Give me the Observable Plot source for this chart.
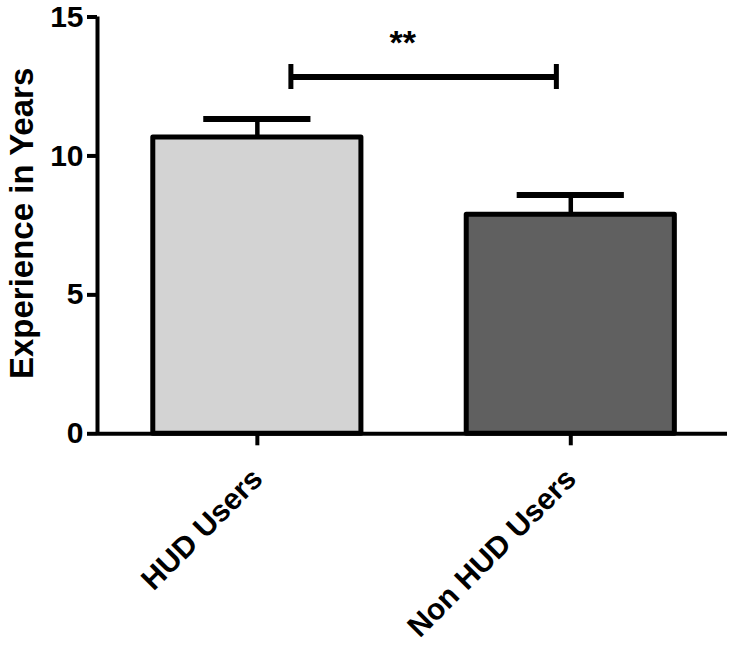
<!DOCTYPE html>
<html>
<head>
<meta charset="utf-8">
<script src="https://cdn.jsdelivr.net/npm/d3@7"></script>
<script src="https://cdn.jsdelivr.net/npm/@observablehq/plot@0.6"></script>
<style>
  html, body { margin: 0; padding: 0; background: #fff; }
  #chart svg { display: block; }
</style>
</head>
<body>
<div id="chart"></div>
<script>
// ---- data ----
const categories = ["HUD Users", "Non HUD Users"];
const means = [10.66, 7.88];
const sems = [0.67, 0.71];
const barColors = ["#d3d3d3", "#606060"];
const yTicks = [0, 5, 10, 15];
const yLabel = "Experience in Years";
const sigFrom = [0.107];   // bracket ends, in category-index units
const sigTo = [0.954];
const sigY = [12.84];
const sigLabelX = [0.464];
const sigLabels = ["**"];

// ---- tables ----
const rows = categories.map((c, i) => ({i, cat: c, mean: means[i], top: means[i] + sems[i]}));
const sig = sigLabels.map((s, k) => ({x1: sigFrom[k], x2: sigTo[k], y: sigY[k], lx: sigLabelX[k], label: s}));
const sigEnds = sig.flatMap(d => [{x: d.x1, y: d.y}, {x: d.x2, y: d.y}]);

const halfBar = 0.332, halfCap = 0.171, tickHalf = 0.45;
const font = "'Liberation Sans', Arial, Helvetica, sans-serif";

const chart = Plot.plot({
  width: 735,
  height: 652,
  marginLeft: 97,
  marginRight: 8,
  marginTop: 16.5,
  marginBottom: 218.7,
  style: {fontFamily: font, background: "white", color: "black"},
  x: {type: "linear", domain: [-0.51, 1.5], axis: null},
  y: {domain: [0, 15], axis: null},
  color: {domain: categories, range: barColors},
  marks: [
    // bars
    Plot.rectY(rows, {x1: d => d.i - halfBar, x2: d => d.i + halfBar, y1: 0, y2: "mean",
      fill: "cat", stroke: "black", strokeWidth: 5, strokeLinejoin: "round"}),
    // error stems
    Plot.ruleX(rows, {x: "i", y1: "mean", y2: "top", stroke: "black", strokeWidth: 4.5}),
    // error caps
    Plot.ruleY(rows, {y: "top", x1: d => d.i - halfCap, x2: d => d.i + halfCap, stroke: "black", strokeWidth: 6}),
    // y axis
    Plot.axisY({ticks: yTicks, tickSize: 10, tickPadding: 4, fontSize: 30, fontWeight: "bold",
      strokeWidth: 4, tickFormat: d => d, label: null, color: "black"}),
    Plot.ruleX([-0.51], {stroke: "black", strokeWidth: 4}),
    // x axis
    Plot.ruleY([0], {stroke: "black", strokeWidth: 4}),
    Plot.axisX({ticks: [0, 1], tickSize: 12, strokeWidth: 4, tickFormat: () => "", label: null}),
    Plot.text(rows, {x: "i", y: 0, text: "cat", rotate: -45, textAnchor: "end", lineAnchor: "bottom",
      dx: 7, dy: 47, fontSize: 30, fontWeight: "bold", fill: "black"}),
    // y label
    Plot.text([yLabel], {frameAnchor: "left", textAnchor: "middle", rotate: -90, dx: -65, dy: -2, lineAnchor: "bottom",
      fontSize: 33, fontWeight: "bold", fill: "black"}),
    // significance bracket
    Plot.ruleY(sig, {y: "y", x1: "x1", x2: "x2", stroke: "black", strokeWidth: 6}),
    Plot.ruleX(sigEnds, {x: "x", y1: d => d.y - tickHalf, y2: d => d.y + tickHalf, stroke: "black", strokeWidth: 5}),
    Plot.text(sig, {x: "lx", y: 13.68, text: "label", lineAnchor: "bottom", fontSize: 34, fontWeight: "bold", fill: "black"})
  ]
});
document.getElementById("chart").appendChild(chart);
</script>
</body>
</html>
